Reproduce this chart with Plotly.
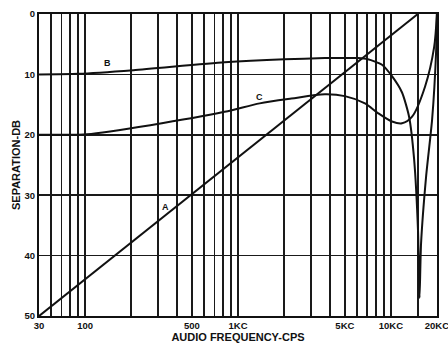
import math
import plotly.graph_objects as go

# Grid positions (log frequency axis); left edge of the printed chart is labelled "30"
grid_freqs = [50, 60, 70, 80, 90, 100, 200, 300, 400, 500, 600, 700, 800, 900,
              1000, 2000, 3000, 4000, 5000, 6000, 7000, 8000, 9000, 10000, 15000, 20000]
label_map = {50: "30", 100: "100", 500: "500", 1000: "1KC", 5000: "5KC",
             10000: "10KC", 20000: "20KC"}
grid_text = [label_map.get(f, "") for f in grid_freqs]

y_ticks = [0, 10, 20, 30, 40, 50]
y_text = ["0", "10", "20", "30", "40", "50"]

# Curve A (straight on log scale)
a_freq = [50, 15000]
a_db = [50, 0]

# Curve B
b_freq = [50, 90, 207, 817, 2022, 3696, 6085, 7075, 8742, 10166, 11826, 13150,
          14180, 15050, 15390, 15750, 16980, 18600, 19770, 20000]
b_db = [10, 9.9, 9.3, 8.0, 7.5, 7.3, 7.3, 7.5, 8.4, 10.3, 13.0, 17.0,
        24.0, 36.0, 47.0, 38.0, 27.0, 17.5, 6.0, 0]

# Curve C
c_freq = [50, 69, 103, 267, 817, 1386, 2235, 3696, 5000, 6766, 8226, 10166,
          11826, 13760, 16735, 19180, 20000]
c_db = [20, 20, 19.9, 18.4, 16.2, 14.8, 14.0, 13.3, 13.6, 14.8, 16.4, 17.8,
        18.1, 17.0, 12.0, 5.5, 0]

# Curve labels
lab_text = ["B", "C", "A"]
lab_freq = [140, 1386, 335]
lab_db = [8.1, 13.7, 32.0]

fig = go.Figure()
fig.add_trace(go.Scatter(x=a_freq, y=a_db, mode="lines",
                         line=dict(color="#111111", width=2), showlegend=False))
fig.add_trace(go.Scatter(x=b_freq, y=b_db, mode="lines",
                         line=dict(color="#111111", width=2, shape="spline", smoothing=0.6),
                         showlegend=False))
fig.add_trace(go.Scatter(x=c_freq, y=c_db, mode="lines",
                         line=dict(color="#111111", width=2, shape="spline", smoothing=0.8),
                         showlegend=False))

for t, fx, fy in zip(lab_text, lab_freq, lab_db):
    fig.add_annotation(x=math.log10(fx), y=fy, xref="x", yref="y", text="<b>%s</b>" % t,
                       showarrow=False,
                       font=dict(family="Liberation Sans", size=9, color="#111111"))

font = dict(family="Liberation Sans", size=9.5, color="#111111")
title_font = dict(family="Liberation Sans", size=11, color="#111111")
fig.update_xaxes(type="log", range=[math.log10(50) - 0.0005, math.log10(20000) + 0.0005],
                 tickmode="array",
                 tickvals=grid_freqs, ticktext=["<b>%s</b>" % s if s else "" for s in grid_text],
                 showgrid=True, gridcolor="#1a1a1a", gridwidth=1.6,
                 showline=True, linecolor="#111111", linewidth=2, mirror=True,
                 ticks="", tickfont=font, automargin=False, ticklabeloverflow="allow",
                 title=dict(text="<b>AUDIO FREQUENCY-CPS</b>", font=title_font, standoff=2),
                 zeroline=False)
fig.update_yaxes(range=[50, 0], tickmode="array", tickvals=y_ticks,
                 ticktext=["<b>%s</b>" % s for s in y_text],
                 showgrid=True, gridcolor="#1a1a1a", gridwidth=1.6,
                 showline=True, linecolor="#111111", linewidth=2, mirror=True,
                 ticks="", tickfont=font, automargin=False,
                 title=dict(text="<b>SEPARATION-DB</b>", font=title_font, standoff=2),
                 zeroline=False)
fig.update_layout(width=448, height=348, margin=dict(l=39, r=11, t=14, b=32),
                  paper_bgcolor="white", plot_bgcolor="white")
fig.write_html("out.html", config={"displayModeBar": False, "staticPlot": True},
               post_script="document.body.style.margin='0';document.body.style.overflow='hidden';")
